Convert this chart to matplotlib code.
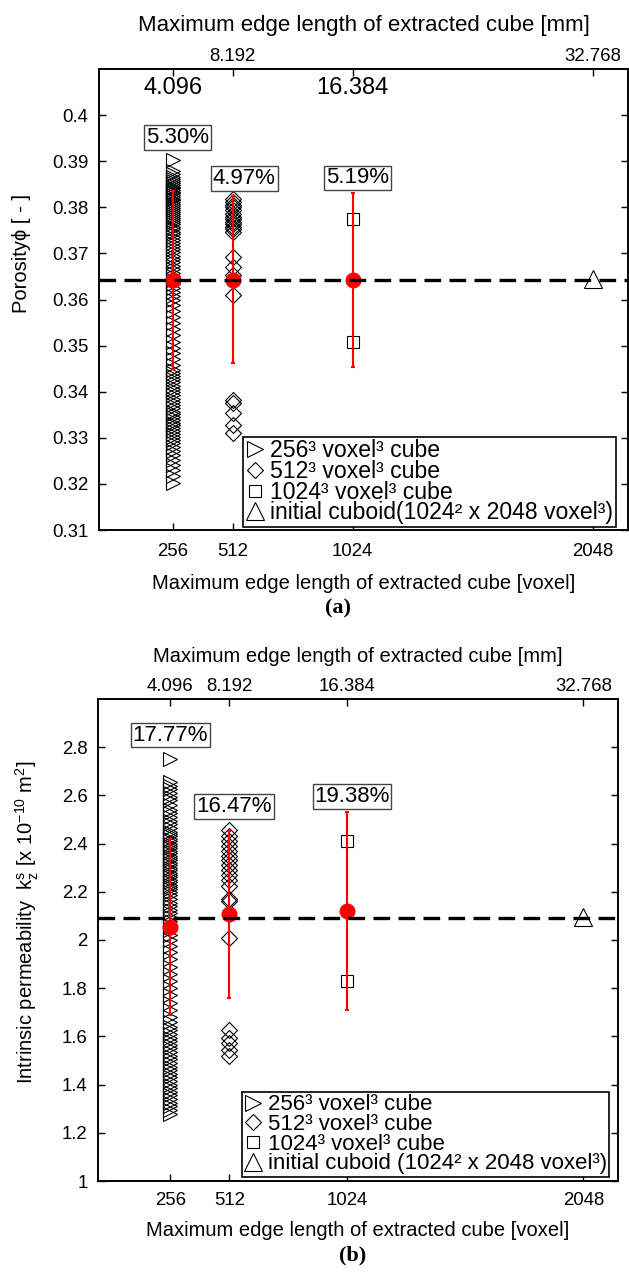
import matplotlib
matplotlib.use("Agg")
import matplotlib.pyplot as plt
from matplotlib.lines import Line2D

plt.rcParams['font.family'] = ['Liberation Sans', 'DejaVu Sans']
plt.rcParams['mathtext.fontset'] = 'custom'
plt.rcParams['mathtext.rm'] = 'Liberation Sans'
plt.rcParams['mathtext.it'] = 'Liberation Sans:italic'

# ---------------- data ----------------
voxel_ticks = [256, 512, 1024, 2048]
voxel_tick_labels = ['256', '512', '1024', '2048']
mm_tick_labels = ['4.096', '8.192', '16.384', '32.768']
cube_sizes = [256, 512, 1024]
cuboid_size = 2048

# (a) porosity
por_256 = [0.3902,
           0.3878, 0.3872, 0.3866, 0.3861, 0.3857, 0.3853, 0.3849, 0.3845, 0.3841, 0.3838,
           0.3834, 0.3830, 0.3826, 0.3822, 0.3818, 0.3815, 0.3811, 0.3807, 0.3803, 0.3799,
           0.3795, 0.3790, 0.3786, 0.3781, 0.3777, 0.3772, 0.3768, 0.3763, 0.3758, 0.3752,
           0.3747, 0.3741, 0.3735, 0.3729, 0.3722,
           0.3716, 0.3709, 0.3702, 0.3695, 0.3688, 0.3681, 0.3673, 0.3666, 0.3658, 0.3650,
           0.3642, 0.3633, 0.3625, 0.3617, 0.3608,
           0.3598, 0.3587, 0.3575, 0.3562, 0.3549, 0.3536, 0.3522, 0.3508, 0.3495, 0.3483,
           0.3470, 0.3458,
           0.3448, 0.3441, 0.3434, 0.3427, 0.3420, 0.3413, 0.3406, 0.3399, 0.3392, 0.3385,
           0.3378, 0.3371, 0.3364, 0.3357, 0.3351, 0.3345, 0.3339, 0.3333, 0.3327, 0.3321,
           0.3315, 0.3309, 0.3302, 0.3295, 0.3288, 0.3280, 0.3271, 0.3262, 0.3252, 0.3241,
           0.3230, 0.3218, 0.3201]
por_512 = [0.3819, 0.3812, 0.3805, 0.3800, 0.3794, 0.3786, 0.3779, 0.3774, 0.3769, 0.3763,
           0.3758, 0.3752, 0.3747, 0.3693, 0.3671, 0.3653, 0.3610,
           0.3382, 0.3375, 0.3353, 0.3328, 0.3310]
por_1024 = [0.3775, 0.3508]
por_cuboid = 0.3645
por_mean = [0.3643, 0.3643, 0.3643]
por_std = [0.0193, 0.0181, 0.0189]
por_ref = 0.3643
por_cv_labels = ['5.30%', '4.97%', '5.19%']
por_cv_x = [276, 562, 1044]
por_cv_y = [0.3951, 0.3862, 0.3864]
por_yticks = [0.31, 0.32, 0.33, 0.34, 0.35, 0.36, 0.37, 0.38, 0.39, 0.40]
por_ytick_labels = ['0.31', '0.32', '0.33', '0.34', '0.35', '0.36', '0.37', '0.38', '0.39', '0.4']

# (b) permeability
perm_256 = [2.750,
            2.655, 2.640, 2.625, 2.610, 2.595, 2.580, 2.560, 2.540, 2.525, 2.510,
            2.495, 2.480, 2.465, 2.450, 2.440, 2.430, 2.420, 2.410, 2.400, 2.390,
            2.380, 2.370, 2.360, 2.350, 2.340, 2.330, 2.320, 2.310, 2.300, 2.290,
            2.280, 2.270, 2.260, 2.250, 2.240, 2.230, 2.220, 2.210, 2.200, 2.185,
            2.170, 2.155, 2.140, 2.125, 2.110, 2.095, 2.080, 2.060, 2.040, 2.020,
            2.000, 1.975, 1.950, 1.920, 1.890, 1.860, 1.830, 1.800, 1.770, 1.740,
            1.710, 1.680, 1.660, 1.640, 1.625, 1.610, 1.595, 1.580, 1.565, 1.550,
            1.535, 1.520, 1.505, 1.490, 1.475, 1.460, 1.445, 1.430, 1.415, 1.400,
            1.385, 1.370, 1.355, 1.340, 1.325, 1.310, 1.295, 1.280]
perm_512 = [2.455, 2.430, 2.410, 2.390, 2.370, 2.350, 2.330, 2.310, 2.290, 2.270,
            2.250, 2.225, 2.170, 2.160, 2.010,
            1.628, 1.595, 1.573, 1.545, 1.517]
perm_1024 = [2.41, 1.83]
perm_cuboid = 2.095
perm_mean = [2.054, 2.107, 2.120]
perm_std = [0.366, 0.347, 0.411]
perm_ref = 2.09
perm_cv_labels = ['17.77%', '16.47%', '19.38%']
perm_cv_x = [256, 532, 1044]
perm_cv_y = [2.85, 2.555, 2.596]
perm_yticks = [1.0, 1.2, 1.4, 1.6, 1.8, 2.0, 2.2, 2.4, 2.6, 2.8]
perm_ytick_labels = ['1', '1.2', '1.4', '1.6', '1.8', '2', '2.2', '2.4', '2.6', '2.8']

legend_a = ['256\u00b3 voxel\u00b3 cube', '512\u00b3 voxel\u00b3 cube',
            '1024\u00b3 voxel\u00b3 cube', 'initial cuboid(1024\u00b2 x 2048 voxel\u00b3)']
legend_b = ['256\u00b3 voxel\u00b3 cube', '512\u00b3 voxel\u00b3 cube',
            '1024\u00b3 voxel\u00b3 cube', 'initial cuboid (1024\u00b2 x 2048 voxel\u00b3)']

XLIM = (-58, 2198)
W, H = 629, 1273
TICK_FS = 13.4

fig = plt.figure(figsize=(W / 100, H / 100), dpi=100)


def px_axes(l, r, t, b):
    return fig.add_axes([l / W, 1 - b / H, (r - l) / W, (b - t) / H])


def draw_panel(ax, s256, s512, s1024, cub, means, stds, ref, cvl, cvx, cvy,
               yt, ytl, ylim, legend_labels, leg_anchor, leg_fs, leg_sp, bottom_pad):
    kw = dict(linestyle='none', mfc='none', mec='black', mew=0.8)
    ax.plot([cube_sizes[0]] * len(s256), s256, marker='>', ms=10.5, **kw)
    ax.plot([cube_sizes[1]] * len(s512), s512, marker='D', ms=8.5, **kw)
    ax.plot([cube_sizes[2]] * len(s1024), s1024, marker='s', ms=8.4, **kw)
    ax.plot([cuboid_size], [cub], marker='^', ms=12.5, **kw)
    ax.errorbar(cube_sizes, means, yerr=stds, fmt='o', color='red', ms=10.5,
                ecolor='red', elinewidth=1.5, capsize=1.5, capthick=1.5, zorder=5)
    ax.axhline(ref, color='black', lw=2.4, dashes=(5, 2.5), zorder=6)
    for lab, x, y in zip(cvl, cvx, cvy):
        ax.text(x, y, lab, ha='center', va='center', fontsize=16,
                bbox=dict(boxstyle='square,pad=0.08', fc='white', ec='#444444', lw=1.0),
                zorder=7)
    ax.set_xlim(*XLIM)
    ax.set_ylim(*ylim)
    ax.set_xticks(voxel_ticks)
    ax.set_xticklabels(voxel_tick_labels)
    ax.set_yticks(yt)
    ax.set_yticklabels(ytl)
    ax.tick_params(axis='both', direction='in', length=5, width=1,
                   labelsize=TICK_FS, right=True)
    ax.tick_params(axis='x', pad=bottom_pad)
    ax.tick_params(axis='y', pad=7.5)
    for sp in ax.spines.values():
        sp.set_linewidth(1.2)
    handles = [
        Line2D([], [], marker='>', ms=11, **kw),
        Line2D([], [], marker='D', ms=8.5, **kw),
        Line2D([], [], marker='s', ms=8.4, **kw),
        Line2D([], [], marker='^', ms=12.5, **kw),
    ]
    leg = ax.legend(handles, legend_labels, loc='lower left', bbox_to_anchor=leg_anchor,
                    fontsize=leg_fs, frameon=True, fancybox=False, edgecolor='black',
                    framealpha=1, borderpad=0.12, labelspacing=leg_sp, handlelength=0.8,
                    handletextpad=0.25, borderaxespad=0.0)
    leg.get_frame().set_linewidth(1.2)
    leg.set_zorder(8)


# ---------------- panel (a) ----------------
axA = px_axes(99, 628, 69, 530)
draw_panel(axA, por_256, por_512, por_1024, por_cuboid, por_mean, por_std, por_ref,
           por_cv_labels, por_cv_x, por_cv_y, por_yticks, por_ytick_labels, (0.31, 0.41),
           legend_a, (0.272, 0.006), 16.6, -0.1, 9)
axA.set_xlabel('Maximum edge length of extracted cube [voxel]', fontsize=14.5)
axA.xaxis.set_label_coords(0.5, (530 - 583) / 461)
axA.xaxis.label.set_va('center')
axA.set_ylabel('Porosity\u03d5 [ - ]', fontsize=14.5)
axA.yaxis.set_label_coords((22 - 99) / 529, 0.6)
axA.yaxis.label.set_va('center')

topA = axA.twiny()
topA.set_xlim(*XLIM)
topA.set_xticks(voxel_ticks)
topA.set_xticklabels(['', mm_tick_labels[1], '', mm_tick_labels[3]])
topA.tick_params(axis='x', direction='in', length=5, width=1, labelsize=TICK_FS, pad=3)
topA.set_xlabel('Maximum edge length of extracted cube [mm]', fontsize=16)
topA.xaxis.set_label_coords(0.5, 1 + (69 - 25) / 461)
topA.xaxis.label.set_va('center')
for sp in topA.spines.values():
    sp.set_linewidth(1.2)
for idx in (0, 2):
    axA.text(voxel_ticks[idx], 0.4059, mm_tick_labels[idx], ha='center', va='center',
             fontsize=17)

fig.text(338 / W, 1 - 608 / H, '(a)', ha='center', va='center', fontsize=16,
         fontweight='bold', family='Liberation Serif')

# ---------------- panel (b) ----------------
axB = px_axes(98, 618, 699, 1181)
draw_panel(axB, perm_256, perm_512, perm_1024, perm_cuboid, perm_mean, perm_std, perm_ref,
           perm_cv_labels, perm_cv_x, perm_cv_y, perm_yticks, perm_ytick_labels, (1.0, 3.0),
           legend_b, (0.276, 0.008), 16.0, -0.06, 8)
axB.set_xlabel('Maximum edge length of extracted cube [voxel]', fontsize=14.5)
axB.xaxis.set_label_coords(0.5, (1181 - 1230) / 482)
axB.xaxis.label.set_va('center')
axB.set_ylabel(r'Intrinsic permeability  $\mathrm{k}_\mathrm{z}^\mathrm{s}$ [x 10$^{-10}$ m$^2$]',
               fontsize=14.5)
axB.yaxis.set_label_coords((27 - 98) / 520, 0.537)
axB.yaxis.label.set_va('center')

topB = axB.twiny()
topB.set_xlim(*XLIM)
topB.set_xticks(voxel_ticks)
topB.set_xticklabels(mm_tick_labels)
topB.tick_params(axis='x', direction='in', length=5, width=1, labelsize=TICK_FS, pad=3)
topB.set_xlabel('Maximum edge length of extracted cube [mm]', fontsize=14.5)
topB.xaxis.set_label_coords(0.5, 1 + (699 - 657) / 482)
topB.xaxis.label.set_va('center')
for sp in topB.spines.values():
    sp.set_linewidth(1.2)

fig.text(353 / W, 1 - 1255 / H, '(b)', ha='center', va='center', fontsize=16,
         fontweight='bold', family='Liberation Serif')

fig.savefig('out.png', dpi=100)
